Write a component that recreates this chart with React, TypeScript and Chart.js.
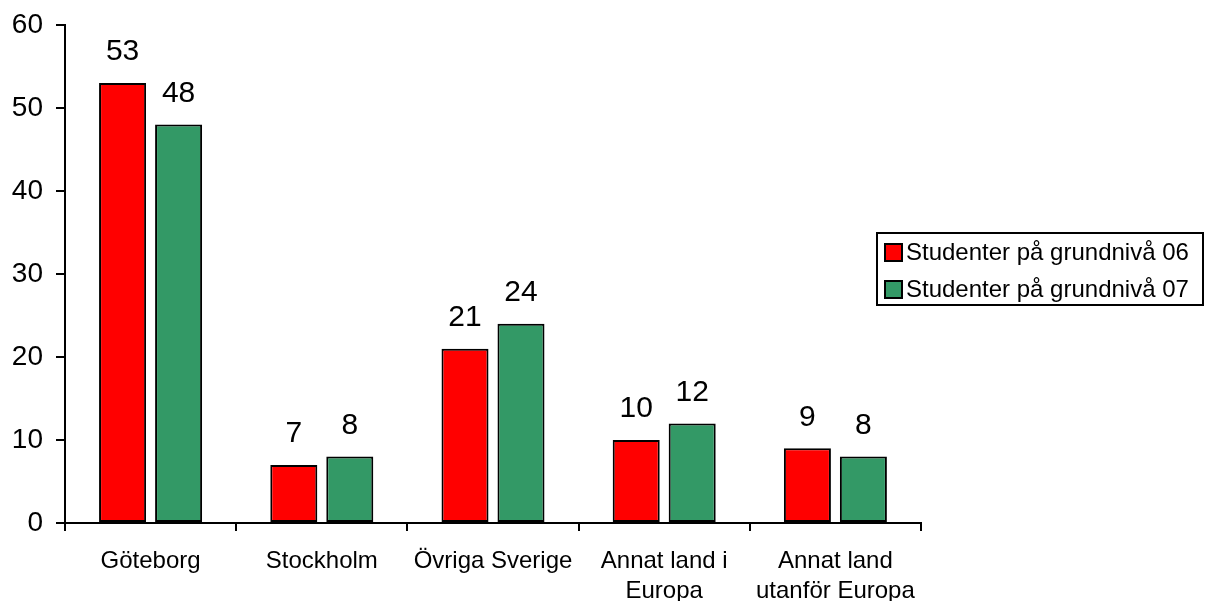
import React, { useEffect, useRef } from "react";
import { Chart, registerables } from "chart.js";

Chart.register(...registerables);

const categories: (string | string[])[] = [
  "Göteborg",
  "Stockholm",
  "Övriga Sverige",
  ["Annat land i", "Europa"],
  ["Annat land", "utanför Europa"],
];
const series06 = [53, 7, 21, 10, 9];
const series07 = [48, 8, 24, 12, 8];
const seriesNames = ["Studenter på grundnivå 06", "Studenter på grundnivå 07"];
const seriesColors = ["#FF0000", "#339966"];
const yTicks = { min: 0, max: 60, step: 10 };

const FONT = "'Liberation Sans', Arial, sans-serif";

const dataLabelPlugin = {
  id: "dataLabels",
  afterDatasetsDraw(chart: any) {
    const ctx = chart.ctx;
    ctx.save();
    ctx.fillStyle = "#000";
    ctx.font = `30px ${FONT}`;
    ctx.textAlign = "center";
    ctx.textBaseline = "middle";
    chart.data.datasets.forEach((ds: any, i: number) => {
      const meta = chart.getDatasetMeta(i);
      meta.data.forEach((el: any, j: number) => {
        ctx.fillText(String(ds.data[j]), el.x, el.y - 31);
      });
    });
    ctx.restore();
  },
};

const legendPlugin = {
  id: "boxLegend",
  afterDraw(chart: any) {
    const ctx = chart.ctx;
    ctx.save();
    const x0 = 877, y0 = 233, w = 326, h = 72;
    ctx.strokeStyle = "#000";
    ctx.lineWidth = 2;
    ctx.strokeRect(x0, y0, w, h);
    ctx.font = `24px ${FONT}`;
    ctx.textBaseline = "middle";
    ctx.textAlign = "left";
    chart.data.datasets.forEach((ds: any, i: number) => {
      const cy = y0 + 19 + i * 37;
      ctx.fillStyle = ds.backgroundColor;
      ctx.fillRect(885, cy - 8, 17, 17);
      ctx.lineWidth = 2;
      ctx.strokeRect(885, cy - 8, 17, 17);
      ctx.fillStyle = "#000";
      ctx.fillText(ds.label, 906, cy + 1);
    });
    ctx.restore();
  },
};

export default function App() {
  const ref = useRef<HTMLCanvasElement>(null);
  useEffect(() => {
    document.body.style.margin = "0";
    const chart = new Chart(ref.current!, {
      type: "bar",
      data: {
        labels: categories,
        datasets: [
          {
            label: seriesNames[0],
            data: series06,
            backgroundColor: seriesColors[0],
            borderColor: "#000",
            borderWidth: 2,
            borderSkipped: false,
          },
          {
            label: seriesNames[1],
            data: series07,
            backgroundColor: seriesColors[1],
            borderColor: "#000",
            borderWidth: 2,
            borderSkipped: false,
          },
        ],
      },
      options: {
        responsive: false,
        animation: false,
        datasets: { bar: { categoryPercentage: 0.654, barPercentage: 0.84 } },
        layout: { padding: { top: 25, right: 287, left: 0, bottom: 0 } },
        plugins: { legend: { display: false }, tooltip: { enabled: false } },
        scales: {
          x: {
            grid: {
              display: true,
              drawOnChartArea: false,
              drawTicks: true,
              tickLength: 8,
              color: "#000",
              lineWidth: 2,
              offset: true,
            },
            border: { display: true, color: "#000", width: 2 },
            ticks: {
              color: "#000",
              font: { size: 24, family: FONT, lineHeight: 1.25 },
              padding: 15,
              maxRotation: 0,
              autoSkip: false,
            },
            afterFit: (s: any) => {
              s.height = 78;
              s.paddingLeft = 0;
              s.paddingRight = 0;
            },
          },
          y: {
            min: yTicks.min,
            max: yTicks.max,
            grid: {
              display: true,
              drawOnChartArea: false,
              drawTicks: true,
              tickLength: 9,
              color: "#000",
              lineWidth: 2,
            },
            border: { display: true, color: "#000", width: 2 },
            ticks: {
              stepSize: yTicks.step,
              color: "#000",
              font: { size: 28, family: FONT },
              padding: 13,
            },
            afterFit: (s: any) => {
              s.width = 65;
              s.paddingTop = 0;
              s.paddingBottom = 0;
            },
          },
        },
      },
      plugins: [dataLabelPlugin, legendPlugin],
    });
    return () => chart.destroy();
  }, []);
  return (
    <div style={{ width: 1208, height: 601, background: "#fff" }}>
      <canvas ref={ref} width={1208} height={601} />
    </div>
  );
}
